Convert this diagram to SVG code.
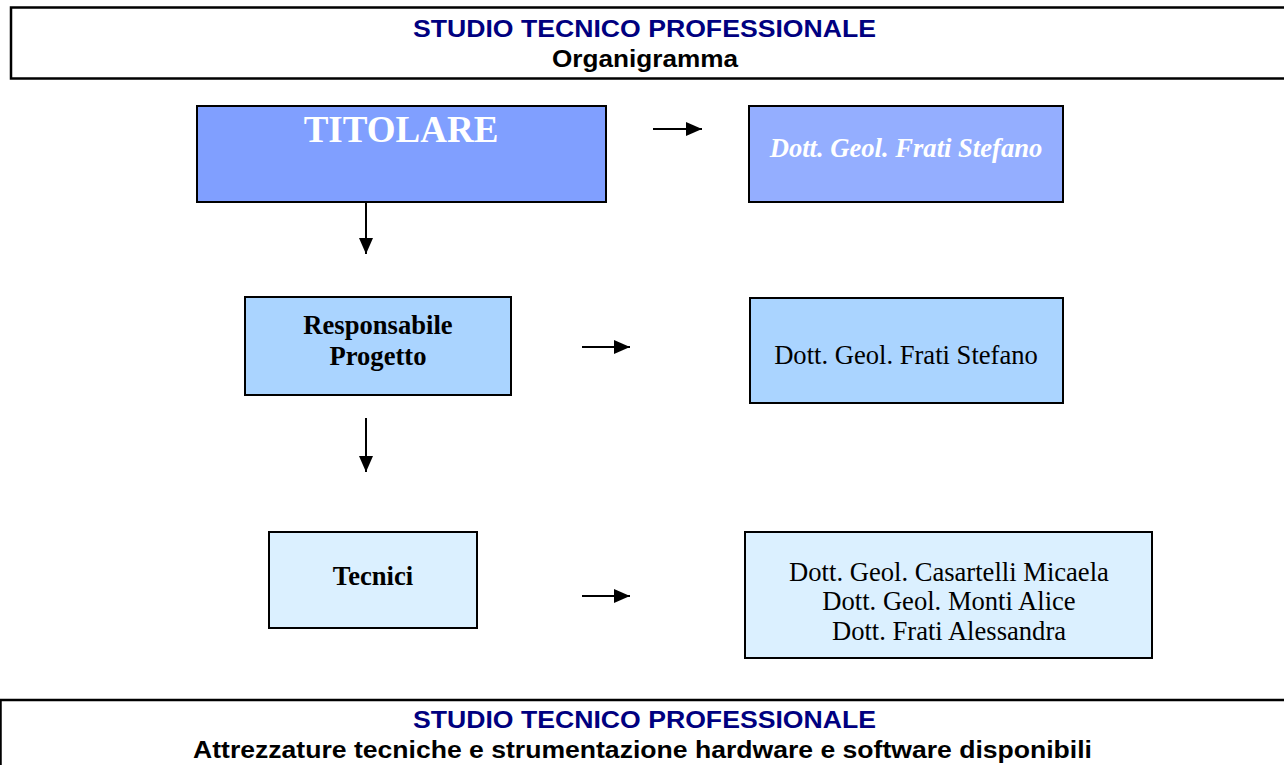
<svg xmlns="http://www.w3.org/2000/svg" width="1284" height="765" viewBox="0 0 1284 765">
<style>
.frame{fill:#ffffff;stroke:#000000;stroke-width:2.5}
.box{stroke:#000000;stroke-width:2}
.hdr{font-family:"Liberation Sans",Arial,sans-serif;font-weight:bold;font-size:23px;text-anchor:middle}
.blue{fill:#000080}
.blk{fill:#000000}
.serif{font-family:"Liberation Serif","Times New Roman",serif;font-size:26.6px;text-anchor:middle;fill:#000000}
.b{font-weight:bold}
.conn line{stroke:#000000;stroke-width:2}
</style>
<defs>
<marker id="ah" markerWidth="16" markerHeight="14" refX="16" refY="7" orient="auto" markerUnits="userSpaceOnUse">
<path d="M0,0 L16,7 L0,14 Z" fill="#000000"/>
</marker>
</defs>
<rect width="1284" height="765" fill="#ffffff"/>

<g id="header-top">
<rect class="frame" x="11" y="7.5" width="1290" height="71"/>
<text class="hdr blue" x="644.5" y="37" textLength="463" lengthAdjust="spacingAndGlyphs">STUDIO TECNICO PROFESSIONALE</text>
<text class="hdr blk" x="645" y="67" textLength="186" lengthAdjust="spacingAndGlyphs">Organigramma</text>
</g>

<g id="titolare">
<rect class="box" x="197" y="106" width="409" height="96" fill="#809fff"/>
<text class="serif b" x="401" y="142" style="fill:#ffffff;font-size:37px">TITOLARE</text>
</g>

<g id="titolare-name">
<rect class="box" x="749" y="106" width="314" height="96" fill="#94aeff"/>
<text class="serif b" x="906" y="157" font-style="italic" style="fill:#ffffff">Dott. Geol. Frati Stefano</text>
</g>

<g id="responsabile">
<rect class="box" x="245" y="297" width="266" height="98" fill="#aad4ff"/>
<text class="serif b" x="378" y="334">Responsabile</text>
<text class="serif b" x="378" y="365">Progetto</text>
</g>

<g id="responsabile-name">
<rect class="box" x="750" y="298" width="313" height="105" fill="#aad4ff"/>
<text class="serif" x="906" y="364">Dott. Geol. Frati Stefano</text>
</g>

<g id="tecnici">
<rect class="box" x="269" y="532" width="208" height="96" fill="#dbf0ff"/>
<text class="serif b" x="373" y="585">Tecnici</text>
</g>

<g id="tecnici-names">
<rect class="box" x="745" y="532" width="407" height="126" fill="#dbf0ff"/>
<text class="serif" x="949" y="581">Dott. Geol. Casartelli Micaela</text>
<text class="serif" x="949" y="610">Dott. Geol. Monti Alice</text>
<text class="serif" x="949" y="640">Dott. Frati Alessandra</text>
</g>

<g id="connectors" class="conn">
<line x1="653" y1="129" x2="702" y2="129" marker-end="url(#ah)"/>
<line x1="366" y1="202" x2="366" y2="254" marker-end="url(#ah)"/>
<line x1="582" y1="347" x2="630" y2="347" marker-end="url(#ah)"/>
<line x1="366" y1="418" x2="366" y2="472" marker-end="url(#ah)"/>
<line x1="582" y1="596" x2="630" y2="596" marker-end="url(#ah)"/>
</g>

<g id="header-bottom">
<rect class="frame" x="0.5" y="700" width="1300" height="80"/>
<text class="hdr blue" x="644.5" y="728" textLength="463" lengthAdjust="spacingAndGlyphs">STUDIO TECNICO PROFESSIONALE</text>
<text class="hdr blk" x="642.5" y="758" textLength="899" lengthAdjust="spacingAndGlyphs">Attrezzature tecniche e strumentazione hardware e software disponibili</text>
</g>
</svg>
